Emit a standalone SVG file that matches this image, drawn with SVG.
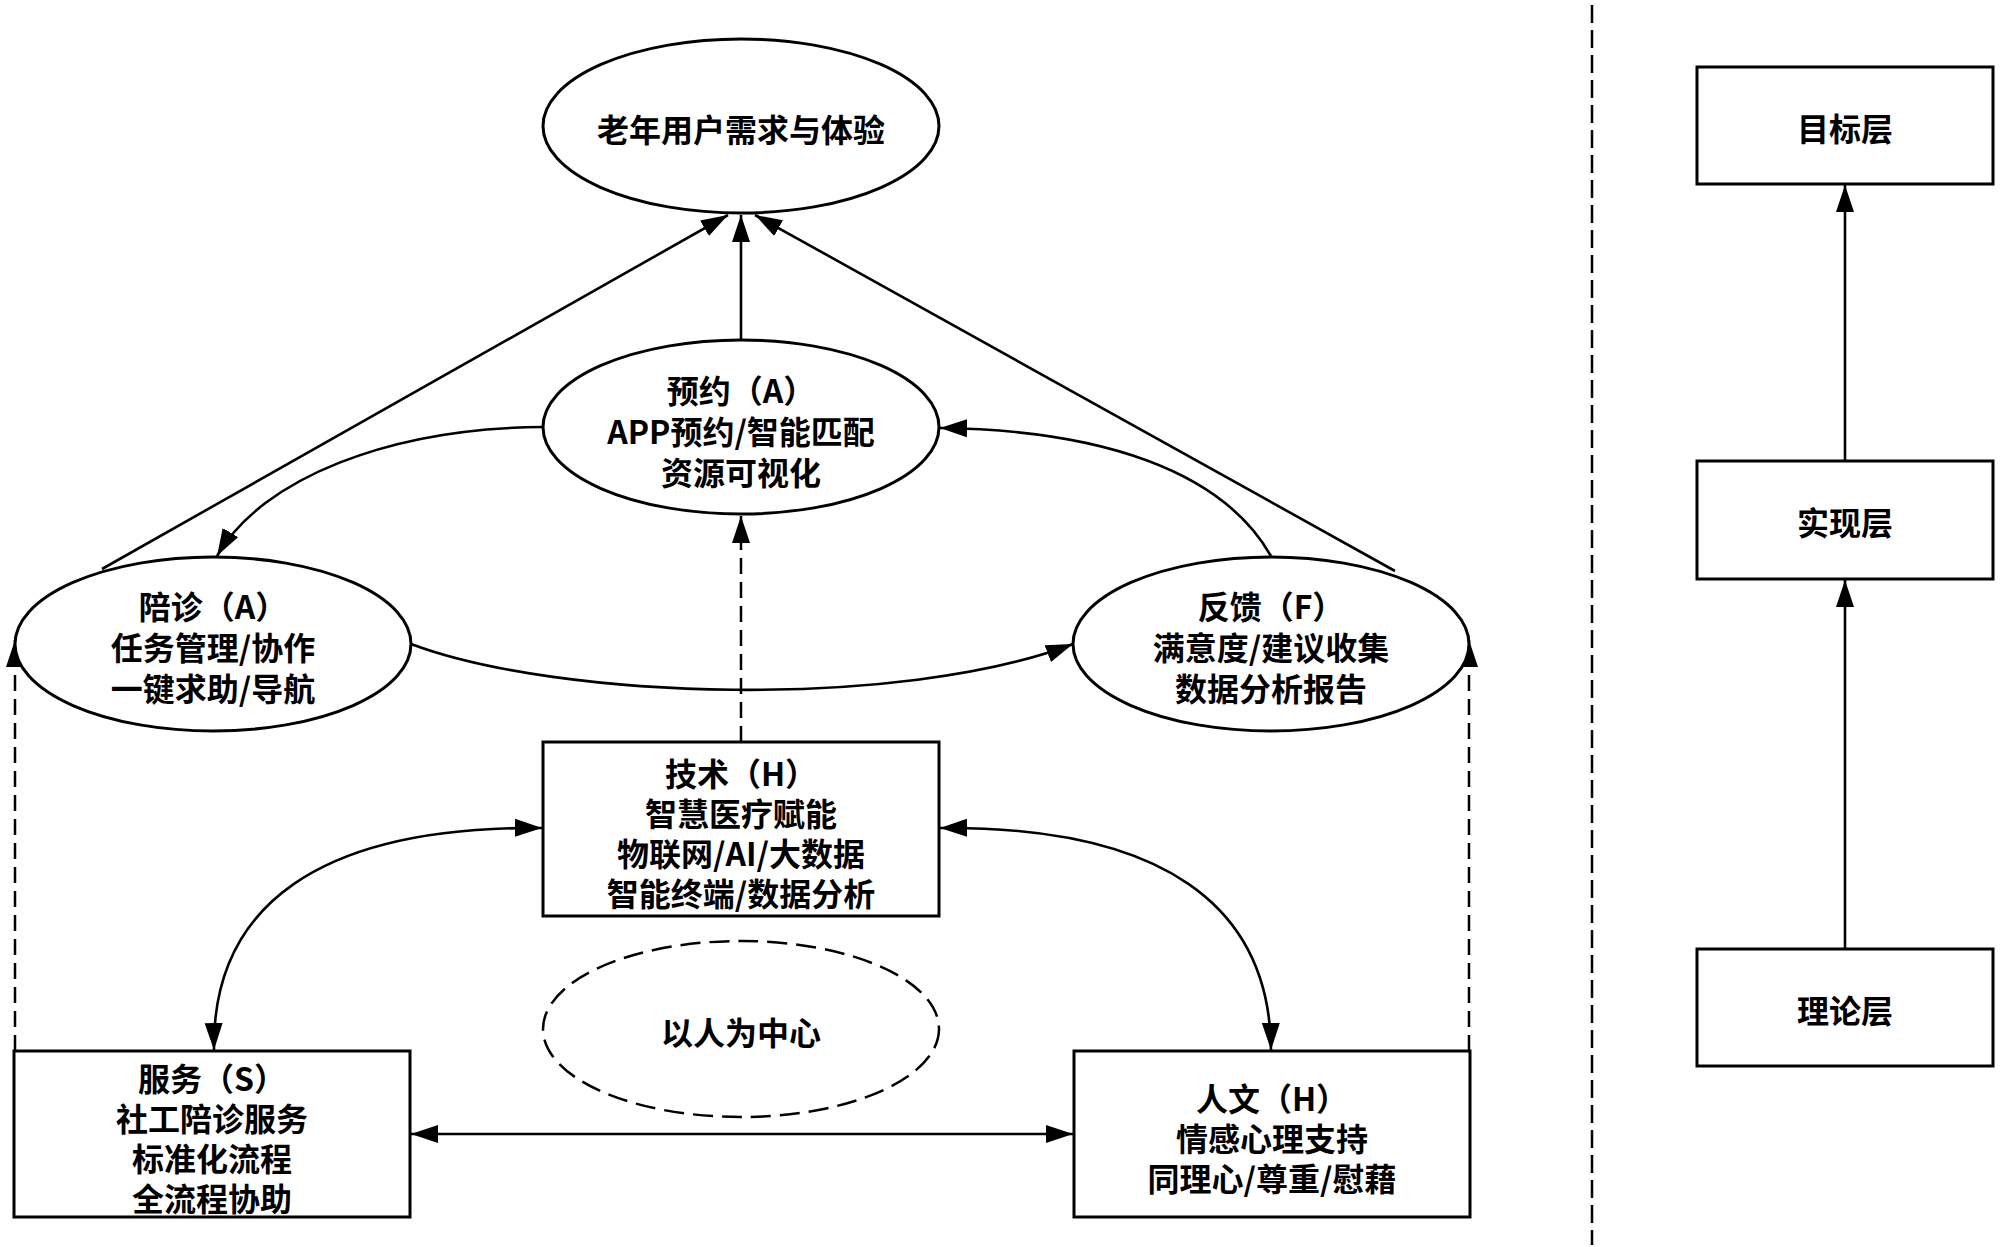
<svg xmlns="http://www.w3.org/2000/svg" width="2000" height="1247" viewBox="0 0 2000 1247">
<style>
.shape{fill:#fff;stroke:#000;stroke-width:3}
.dashshape{fill:none;stroke:#000;stroke-width:2.5;stroke-dasharray:20 9}
.t{font-family:"Noto Sans CJK SC","Noto Sans",sans-serif;font-weight:bold;font-size:32px;fill:#000;text-anchor:middle;dominant-baseline:central}
.c{fill:none;stroke:#000;stroke-width:2.6}
.d{fill:none;stroke:#000;stroke-width:2.5;stroke-dasharray:16 8}
</style>
<defs>
<marker id="ah" markerUnits="userSpaceOnUse" markerWidth="28" markerHeight="20" refX="27" refY="9" orient="auto-start-reverse" viewBox="0 0 28 18">
<path d="M0,0 L27,9 L0,18 Z" fill="#000"/>
</marker>
</defs>
<rect width="2000" height="1247" fill="#fff"/>

<g id="connectors">
<path class="c" d="M741,340 L741,215" marker-end="url(#ah)"/>
<path class="c" d="M102,569 L728,215" marker-end="url(#ah)"/>
<path class="c" d="M1395,571 L755,215" marker-end="url(#ah)"/>
<path class="c" d="M543,427 C390,428 262,478 217,556" marker-end="url(#ah)"/>
<path class="c" d="M1271,556 C1222,470 1100,430 940,428" marker-end="url(#ah)"/>
<path class="c" d="M411,644 C560,700 900,710 1073,644" marker-end="url(#ah)"/>
<path class="d" d="M741,742 L741,516" marker-end="url(#ah)"/>
<path class="d" d="M15,1051 L15,640" marker-end="url(#ah)"/>
<path class="d" d="M1469,1051 L1469,640" marker-end="url(#ah)"/>
<path class="c" d="M542,828 C320,826 212,905 214,1050" marker-start="url(#ah)" marker-end="url(#ah)"/>
<path class="c" d="M940,828 C1162,826 1270,905 1271,1050" marker-start="url(#ah)" marker-end="url(#ah)"/>
<path class="c" d="M411,1134 L1073,1134" marker-start="url(#ah)" marker-end="url(#ah)"/>
<path class="c" d="M1845,461 L1845,185" marker-end="url(#ah)"/>
<path class="c" d="M1845,949 L1845,580" marker-end="url(#ah)"/>
</g>

<line x1="1592" y1="5" x2="1592" y2="1245" stroke="#000" stroke-width="2.5" stroke-dasharray="18 7"/>

<g id="goal">
<ellipse class="shape" cx="741" cy="126" rx="198" ry="87"/>
<text class="t" x="741" y="128">老年用户需求与体验</text>
</g>

<g id="booking">
<ellipse class="shape" cx="741" cy="427" rx="198" ry="87"/>
<text class="t" x="741" y="389">预约（A）<tspan x="741" dy="41">APP预约/智能匹配</tspan><tspan x="741" dy="41">资源可视化</tspan></text>
</g>

<g id="escort">
<ellipse class="shape" cx="213" cy="644" rx="198" ry="87"/>
<text class="t" x="213" y="605">陪诊（A）<tspan x="213" dy="41">任务管理/协作</tspan><tspan x="213" dy="41">一键求助/导航</tspan></text>
</g>

<g id="feedback">
<ellipse class="shape" cx="1271" cy="644" rx="198" ry="87"/>
<text class="t" x="1271" y="605">反馈（F）<tspan x="1271" dy="41">满意度/建议收集</tspan><tspan x="1271" dy="41">数据分析报告</tspan></text>
</g>

<g id="tech">
<rect class="shape" x="543" y="742" width="396" height="174"/>
<text class="t" x="741" y="772">技术（H）<tspan x="741" dy="40">智慧医疗赋能</tspan><tspan x="741" dy="40">物联网/AI/大数据</tspan><tspan x="741" dy="40">智能终端/数据分析</tspan></text>
</g>

<g id="center">
<ellipse class="dashshape" cx="741" cy="1029" rx="198" ry="88"/>
<text class="t" x="741" y="1031">以人为中心</text>
</g>

<g id="service">
<rect class="shape" x="14" y="1051" width="396" height="166"/>
<text class="t" x="212" y="1077">服务（S）<tspan x="212" dy="40">社工陪诊服务</tspan><tspan x="212" dy="40">标准化流程</tspan><tspan x="212" dy="40">全流程协助</tspan></text>
</g>

<g id="humanity">
<rect class="shape" x="1074" y="1051" width="396" height="166"/>
<text class="t" x="1272" y="1097">人文（H）<tspan x="1272" dy="40">情感心理支持</tspan><tspan x="1272" dy="40">同理心/尊重/慰藉</tspan></text>
</g>

<g id="layer-goal">
<rect class="shape" x="1697" y="67" width="296" height="117"/>
<text class="t" x="1845" y="127">目标层</text>
</g>
<g id="layer-impl">
<rect class="shape" x="1697" y="461" width="296" height="118"/>
<text class="t" x="1845" y="521">实现层</text>
</g>
<g id="layer-theory">
<rect class="shape" x="1697" y="949" width="296" height="117"/>
<text class="t" x="1845" y="1009">理论层</text>
</g>
</svg>
